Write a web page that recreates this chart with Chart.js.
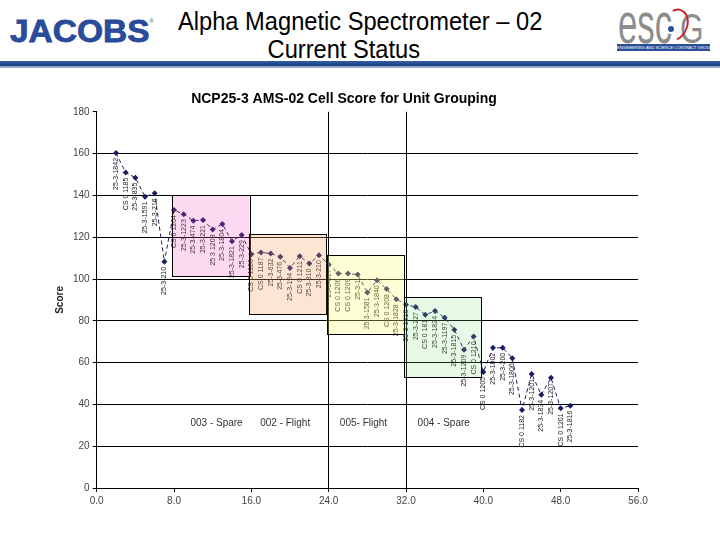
<!DOCTYPE html>
<html>
<head>
<meta charset="utf-8">
<script src="https://cdn.jsdelivr.net/npm/chart.js@4.4.1/dist/chart.umd.min.js"></script>
<style>
  html, body { margin: 0; padding: 0; background: #fff; }
  body { width: 720px; height: 540px; position: relative; overflow: hidden; font-family: "Liberation Sans", Arial, sans-serif; }
  #jacobs { position: absolute; left: 10px; top: 14px; font-weight: bold; font-size: 31px; color: #2a4a9b; transform: scaleX(1.08); transform-origin: left top; -webkit-text-stroke: 0.8px #2a4a9b; }
  #jacobs sup { font-size: 5px; font-weight: normal; vertical-align: top; position: relative; top: 4px; -webkit-text-stroke: 0; }
  #title { position: absolute; left: 160px; width: 368px; top: 7px; text-align: center; font-size: 26px; line-height: 28px; color: #000; white-space: nowrap; }
  #title span { display: inline-block; transform: scaleX(0.91); }
  #esg { position: absolute; left: 616px; top: 4px; width: 96px; height: 50px; }
  #esg .l { position: absolute; color: #8d8d8d; white-space: nowrap; transform-origin: left top; line-height: 1; }
  #esg .ring { position: absolute; left: 46px; top: 4px; width: 22px; height: 30px; border: 2px solid #c8242b; border-radius: 50%; border-left-color: transparent; border-bottom-color: transparent; transform: rotate(25deg); }
  #esg .dot { position: absolute; left: 52px; top: 22px; width: 6px; height: 6px; border-radius: 50%; background: #2a4f9a; }
  #esg .bar { position: absolute; left: 1px; top: 40px; width: 93px; height: 7px; background: #2a4f9a; color: #fff; font-size: 4px; line-height: 7px; text-align: center; white-space: nowrap; overflow: hidden; }
  #band { position: absolute; left: 0; top: 61px; width: 720px; height: 5px; background: linear-gradient(#2f5ea6, #1b3d7c); }
  #band2 { position: absolute; left: 0; top: 66px; width: 720px; height: 2px; background: #8fa9d4; }
  #wrap { position: absolute; left: 0; top: 66px; width: 720px; height: 474px; }
</style>
</head>
<body>
<div id="jacobs">JACOBS<sup>®</sup></div>
<div id="title"><span>Alpha Magnetic Spectrometer – 02</span><br><span>Current Status</span></div>
<div id="esg">
  <div class="l" style="left:2px; top:-10px; font-size:58px; transform: scaleX(0.6);">esc</div>
  <div class="l" style="left:64px; top:4px; font-size:42px; transform: scaleX(0.72);">G</div>
  <div class="ring"></div>
  <div class="dot"></div>
  <div class="bar">ENGINEERING AND SCIENCE CONTRACT GROUP</div>
</div>
<div id="band"></div>
<div id="band2"></div>
<div id="wrap"><canvas id="chart" width="720" height="474"></canvas></div>
<script>
"use strict";

const cellIndex = [2, 3, 4, 5, 6, 7, 8, 9, 10, 11, 12, 13, 14, 15, 16, 17, 18, 19, 20, 21, 22, 23, 24, 25,
  26, 27, 28, 29, 30, 31, 32, 33, 34, 35, 36, 37, 38, 39, 40, 41, 42, 43, 44, 45, 46, 47, 48, 49];
const cellScores = [160.3, 150.9, 148.5, 139.4, 141.0, 108.2, 133.0, 131.0, 127.9, 128.2, 123.7, 126.3,
  118.1, 121.0, 111.9, 112.7, 112.2, 110.6, 105.3, 110.9, 107.4, 111.4, 106.9, 102.6,
  102.6, 102.1, 93.6, 99.4, 95.2, 90.3, 87.7, 86.6, 82.9, 84.7, 81.5, 75.7,
  66.2, 72.5, 55.5, 67.1, 67.1, 62.1, 37.3, 54.6, 44.6, 52.7, 38.1, 39.4];
const cellNames = ["25-3-1842", "CS 0 1185", "25-3-835", "25-3-1591", "25-3-216", "25-3-210",
  "CS 0 1204", "25-3-1223", "25-3-474", "25-3-221", "25 3 1203", "25-3-1804",
  "25-3-1821", "25-3-229", "CS 0 1186", "CS 0 1187", "25-3-632", "25-3-476",
  "25-3-194", "CS 0 1211", "25-3-810", "25-3-210", "25-3-617", "CS 0 1206",
  "CS 0 1209", "25-3-1", "25-3-1581", "25-3-1840", "CS 0 1208", "25-3-1828",
  "25-3-1816", "25-3-227", "CS 0 181", "25-3-1824", "25-3-1197", "25-3-1815",
  "25-3-1209", "CS 0 1210", "CS 0 1205", "25-3-1802", "25-3-200", "25-3-1806",
  "CS 0 1182", "25-3-1201", "25-3-1834", "25-3-1207", "CS 0 1201", "25-3-1816"];

const groupNames = ["003 - Spare", "002 - Flight", "005- Flight", "004 - Spare"];
const groupFrom = [7.75, 15.8, 23.8, 31.8];
const groupTo = [15.8, 23.8, 31.8, 39.8];
const groupHigh = [140, 121.5, 111.4, 91.2];
const groupLow = [101.3, 83.0, 73.4, 53.0];
const groupLabelX = [12.4, 19.5, 27.6, 35.9];
const groupLabelY = 31;
const groupFills = ["rgba(240,80,190,0.22)", "rgba(248,160,100,0.28)", "rgba(255,255,120,0.3)", "rgba(120,230,110,0.18)"];

const FONT = "'Liberation Sans', Arial, sans-serif";

const groupPlugin = {
  id: "groups",
  afterDatasetsDraw(chart) {
    const c = chart.ctx;
    const xs = chart.scales.x;
    const ys = chart.scales.y;
    const meta = chart.getDatasetMeta(0);

    // vertical cell names under each point
    c.save();
    c.font = "7px " + FONT;
    c.fillStyle = "#222";
    c.textAlign = "right";
    c.textBaseline = "middle";
    meta.data.forEach((pt, i) => {
      c.save();
      c.translate(pt.x, pt.y + 5);
      c.rotate(-Math.PI / 2);
      c.fillText(cellNames[i], 0, 0);
      c.restore();
    });
    c.restore();

    // unit boxes
    c.save();
    groupNames.forEach((name, i) => {
      const x0 = xs.getPixelForValue(groupFrom[i]);
      const x1 = xs.getPixelForValue(groupTo[i]);
      const y0 = ys.getPixelForValue(groupHigh[i]);
      const y1 = ys.getPixelForValue(groupLow[i]);
      c.fillStyle = groupFills[i];
      c.fillRect(x0, y0, x1 - x0, y1 - y0);
      c.strokeStyle = "#000";
      c.lineWidth = 1;
      c.strokeRect(Math.round(x0) + 0.5, Math.round(y0) + 0.5, Math.round(x1 - x0), Math.round(y1 - y0));
    });
    c.font = "10px " + FONT;
    c.fillStyle = "#333";
    c.textAlign = "center";
    c.textBaseline = "middle";
    groupNames.forEach((name, i) => {
      c.fillText(name, xs.getPixelForValue(groupLabelX[i]), ys.getPixelForValue(groupLabelY));
    });
    c.restore();
  }
};

const canvasElement = document.getElementById("chart");
new Chart(canvasElement, {
  type: "scatter",
  data: {
    datasets: [{
      data: cellIndex.map((x, i) => ({ x: x, y: cellScores[i] })),
      showLine: true,
      borderColor: "#1c1c64",
      borderWidth: 1,
      borderDash: [4, 3],
      pointStyle: "rectRot",
      pointRadius: 3,
      pointBackgroundColor: "#1c1c64",
      pointBorderColor: "#1c1c64",
      pointBorderWidth: 0,
    }],
  },
  options: {
    responsive: false,
    animation: false,
    layout: { padding: { left: 50, right: 82, top: 0, bottom: 30 } },
    plugins: {
      legend: { display: false },
      tooltip: { enabled: false },
      title: {
        display: true,
        text: "NCP25-3 AMS-02 Cell Score for Unit Grouping",
        color: "#000",
        font: { family: FONT, size: 14, weight: "bold" },
        padding: { top: 25, bottom: 4 },
      },
    },
    scales: {
      x: {
        type: "linear",
        min: 0,
        max: 56,
        ticks: {
          stepSize: 8,
          padding: 3,
          color: "#444",
          font: { family: FONT, size: 10 },
          callback: v => v.toFixed(1),
        },
        grid: {
          color: ctx => (ctx.tick && (ctx.tick.value === 24 || ctx.tick.value === 32)) ? "#000" : "rgba(0,0,0,0)",
          tickColor: "#000",
          tickLength: 4,
        },
        border: { color: "#000" },
      },
      y: {
        min: 0,
        max: 180,
        ticks: {
          stepSize: 20,
          padding: 3,
          color: "#444",
          font: { family: FONT, size: 10 },
        },
        grid: {
          color: ctx => (ctx.tick && ctx.tick.value === 180) ? "rgba(0,0,0,0)" : "#000",
          tickColor: "#000",
          tickLength: 4,
        },
        border: { color: "#000" },
        title: {
          display: true,
          text: "Score",
          color: "#222",
          font: { family: FONT, size: 10, weight: "bold" },
        },
      },
    },
  },
  plugins: [groupPlugin],
});
</script>
</body>
</html>
